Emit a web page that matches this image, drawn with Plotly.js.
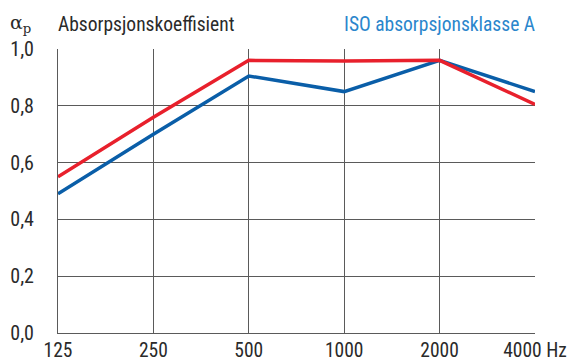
<!DOCTYPE html>
<html><head><meta charset="utf-8">
<script src="https://cdn.plot.ly/plotly-3.0.1.min.js"></script>
<style>html,body{margin:0;padding:0;background:#fff}</style>
</head><body>
<div id="chart" style="width:584px;height:363px"></div>
<script>
const categories = ["125", "250", "500", "1000", "2000", "4000"];
const tickLabels = ["125", "250", "500", "1000", "2000", "4000 Hz"];
const isoClassA = [0.49, 0.70, 0.905, 0.85, 0.96, 0.85];
const product = [0.55, 0.76, 0.96, 0.958, 0.96, 0.805];
const yTicks = [0, 0.2, 0.4, 0.6, 0.8, 1.0];

const font = "Roboto Condensed, Liberation Sans, sans-serif";
const textColor = "#2a2a2a";

const traces = [
  {x: categories, y: isoClassA, type: "scatter", mode: "lines", line: {color: "#0a5ea8", width: 3.5}, hoverinfo: "skip"},
  {x: categories, y: product, type: "scatter", mode: "lines", line: {color: "#e8202c", width: 3.5}, hoverinfo: "skip"}
];
const layout = {
  width: 584, height: 363,
  margin: {l: 58, r: 49, t: 49, b: 30},
  showlegend: false,
  separators: ", ",
  paper_bgcolor: "#fff", plot_bgcolor: "#fff",
  font: {family: font, size: 20, color: textColor},
  xaxis: {type: "category", range: [0, 5], tickvals: categories, ticktext: tickLabels,
          showgrid: true, gridcolor: "#5a5a5a", gridwidth: 1, zeroline: false,
          showline: true, linecolor: "#5a5a5a", linewidth: 1, ticks: "", ticklabelstandoff: 0,
          tickfont: {family: font, size: 19.5, color: textColor}, fixedrange: true},
  yaxis: {range: [0, 1], tickvals: yTicks, tickformat: ".1f",
          showgrid: true, gridcolor: "#5a5a5a", gridwidth: 1, zeroline: false,
          showline: true, linecolor: "#5a5a5a", linewidth: 1, ticks: "", ticklabelstandoff: 19,
          tickfont: {family: font, size: 20, color: textColor}, fixedrange: true},
  annotations: [
    {text: "α<sub>p</sub>", xref: "paper", yref: "paper", x: -0.105, y: 1.09, xanchor: "left", yanchor: "middle", showarrow: false,
     font: {family: "DejaVu Serif, serif", size: 19, color: textColor}},
    {text: "Absorpsjonskoeffisient", xref: "paper", yref: "paper", x: -0.004, y: 1.087, xanchor: "left", yanchor: "middle", showarrow: false,
     font: {family: font, size: 19.5, color: textColor}},
    {text: "ISO absorpsjonsklasse A", xref: "paper", yref: "paper", x: 1.005, y: 1.087, xanchor: "right", yanchor: "middle", showarrow: false,
     font: {family: font, size: 19.5, color: "#2a86cc"}}
  ]
};
Plotly.newPlot("chart", traces, layout, {staticPlot: true, displayModeBar: false});
</script>
</body></html>
